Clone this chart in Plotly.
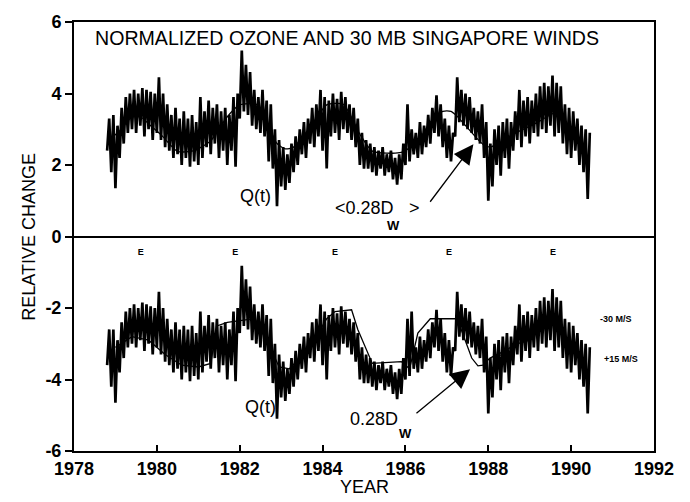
import plotly.graph_objects as go

# ---------------- data ----------------
YEARS = [1978.8, 1978.9,
         1979.0, 1979.1, 1979.2, 1979.3, 1979.4, 1979.5, 1979.6, 1979.7, 1979.8, 1979.9,
         1980.0, 1980.1, 1980.2, 1980.3, 1980.4, 1980.5, 1980.6, 1980.7, 1980.8, 1980.9,
         1981.0, 1981.1, 1981.2, 1981.3, 1981.4, 1981.5, 1981.6, 1981.7, 1981.8, 1981.9,
         1982.0, 1982.1, 1982.2, 1982.3, 1982.4, 1982.5, 1982.6, 1982.7, 1982.8, 1982.9,
         1983.0, 1983.1, 1983.2, 1983.3, 1983.4, 1983.5, 1983.6, 1983.7, 1983.8, 1983.9,
         1984.0, 1984.1, 1984.2, 1984.3, 1984.4, 1984.5, 1984.6, 1984.7, 1984.8, 1984.9,
         1985.0, 1985.1, 1985.2, 1985.3, 1985.4, 1985.5, 1985.6, 1985.7, 1985.8, 1985.9,
         1986.0, 1986.1, 1986.2, 1986.3, 1986.4, 1986.5, 1986.6, 1986.7, 1986.8, 1986.9,
         1987.0, 1987.1, 1987.2, 1987.3, 1987.4, 1987.5, 1987.6, 1987.7, 1987.8, 1987.9,
         1988.0, 1988.1, 1988.2, 1988.3, 1988.4, 1988.5, 1988.6, 1988.7, 1988.8, 1988.9,
         1989.0, 1989.1, 1989.2, 1989.3, 1989.4, 1989.5, 1989.6, 1989.7, 1989.8, 1989.9,
         1990.0, 1990.1, 1990.2, 1990.3, 1990.4]

# Upper panel: normalized ozone Q(t), per-bin high / low of the daily values
OZONE_TOP_HI = [3.3, 3.4,
                3.1, 3.6, 3.9, 4.0, 4.1, 4.0, 4.15, 4.1, 4.05, 4.0,
                4.45, 4.0, 3.7, 3.4, 3.6, 3.3, 3.5, 3.3, 3.4, 3.2,
                3.9, 3.5, 3.8, 3.6, 3.7, 3.5, 3.6, 3.4, 3.9, 4.0,
                5.2, 4.8, 4.6, 4.1, 3.9, 4.1, 3.8, 3.7, 3.0, 2.7,
                2.5, 2.3, 2.6, 2.8, 3.0, 3.2, 3.3, 3.6, 3.7, 4.1,
                3.9, 3.8, 4.0, 3.85, 4.05, 3.9, 3.7, 3.6, 3.3, 2.9,
                2.7, 2.6, 2.5, 2.4, 2.5, 2.3, 2.4, 2.2, 2.3, 2.6,
                3.7, 3.0, 2.9, 3.2, 3.1, 3.4, 3.6, 3.95, 3.7, 3.3,
                3.1, 2.9, 4.45, 4.1, 4.0, 3.9, 3.6, 3.5, 3.7, 3.2,
                2.6, 3.0, 3.1, 3.2, 3.3, 3.2, 3.5, 4.1, 3.8, 3.9,
                3.8, 4.0, 4.2, 4.3, 4.2, 4.5, 4.3, 4.2, 3.7, 3.6,
                3.5, 3.3, 3.1, 3.0, 2.9]
OZONE_TOP_LO = [2.4, 1.8,
                1.35, 2.2, 2.6, 2.9, 3.0, 2.9, 3.1, 2.8, 3.0, 2.7,
                2.9, 2.7, 2.5, 2.4, 2.2, 2.3, 2.0, 2.2, 1.95, 2.1,
                2.0, 2.2, 2.5, 2.3, 2.6, 2.2, 2.4, 2.0, 2.4, 1.95,
                3.3, 3.5, 3.4, 3.1, 3.0, 2.9, 2.8, 2.1, 1.9, 0.85,
                1.4, 1.3, 1.5, 1.8, 2.0, 2.3, 2.2, 2.6, 2.5, 2.8,
                2.4, 1.9, 2.8, 2.9, 2.7, 3.0, 2.9, 2.7, 2.5, 2.0,
                1.9, 1.9, 1.8, 1.7, 1.9, 1.7, 1.8, 1.6, 1.45, 1.6,
                2.0, 2.1, 2.3, 2.2, 2.3, 2.5, 2.6, 2.9, 2.8, 2.5,
                2.2, 2.1, 2.8, 3.2, 3.1, 3.0, 2.9, 2.7, 2.6, 2.2,
                1.0, 1.4, 2.0, 1.7, 2.2, 1.9, 2.4, 2.7, 2.5, 2.8,
                2.6, 2.9, 2.8, 3.0, 2.9, 3.1, 2.8, 2.9, 2.6, 2.3,
                2.2, 2.4, 2.0, 1.8, 1.05]

# Lower panel: ozone Q(t) shown against the wind series
OZONE_BOT_HI = [-2.6, -2.6,
                -2.9, -2.4, -2.1, -2.0, -1.9, -2.0, -1.85, -1.9, -1.95, -2.0,
                -1.55, -2.0, -2.3, -2.6, -2.4, -2.6, -2.5, -2.6, -2.5, -2.7,
                -2.1, -2.5, -2.2, -2.4, -2.3, -2.5, -2.4, -2.6, -2.1, -2.0,
                -0.82, -1.2, -1.4, -1.9, -2.1, -1.9, -2.2, -2.3, -3.0, -3.3,
                -3.5, -3.7, -3.4, -3.2, -3.0, -2.8, -2.7, -2.4, -2.3, -1.9,
                -2.1, -2.2, -2.0, -2.15, -1.95, -2.1, -2.3, -2.4, -2.7, -3.1,
                -3.3, -3.4, -3.5, -3.6, -3.5, -3.7, -3.6, -3.8, -3.7, -3.4,
                -2.3, -2.1, -3.1, -2.8, -2.9, -2.6, -2.4, -2.05, -2.3, -2.7,
                -2.9, -3.1, -1.55, -1.9, -2.0, -2.1, -2.4, -2.5, -2.3, -2.8,
                -3.4, -3.0, -2.9, -2.8, -2.7, -2.8, -2.5, -1.9, -2.2, -2.1,
                -2.2, -2.0, -1.8, -1.7, -1.8, -1.47, -1.7, -1.8, -2.3, -2.4,
                -2.5, -2.7, -2.9, -3.0, -3.1]
OZONE_BOT_LO = [-3.6, -4.2,
                -4.65, -3.8, -3.4, -3.1, -3.0, -3.1, -2.9, -3.2, -3.0, -3.3,
                -3.1, -3.3, -3.5, -3.6, -3.8, -3.7, -4.0, -3.8, -4.05, -3.9,
                -4.0, -3.8, -3.5, -3.7, -3.4, -3.8, -3.6, -4.0, -3.6, -4.05,
                -2.7, -2.5, -2.6, -2.9, -3.0, -3.1, -3.2, -3.9, -4.1, -5.1,
                -4.5, -4.6, -4.4, -4.2, -4.0, -3.7, -3.8, -3.4, -3.5, -3.2,
                -3.6, -4.0, -3.2, -3.1, -3.3, -3.0, -3.1, -3.3, -3.5, -4.0,
                -4.1, -4.1, -4.2, -4.3, -4.1, -4.3, -4.2, -4.4, -4.55, -4.4,
                -4.0, -3.9, -3.7, -3.8, -3.7, -3.5, -3.4, -3.1, -3.2, -3.5,
                -3.8, -3.9, -3.2, -2.8, -2.9, -3.0, -3.1, -3.3, -3.4, -3.8,
                -4.95, -4.5, -4.0, -4.3, -3.8, -4.1, -3.6, -3.3, -3.5, -3.2,
                -3.4, -3.1, -3.2, -3.0, -3.1, -2.9, -3.2, -3.1, -3.4, -3.7,
                -3.8, -3.6, -4.0, -4.2, -4.95]

# Smoothed <0.28 Dw> curve (upper panel)
SMOOTH_TOP_X = [1978.95, 1979.1, 1979.4, 1979.6, 1979.85, 1980.1, 1980.5, 1980.9,
                1981.3, 1981.7, 1982.0, 1982.4, 1982.65, 1982.9, 1983.1, 1983.3,
                1983.7, 1984.1, 1984.5, 1984.9, 1985.2, 1985.9, 1986.3, 1986.6,
                1986.9, 1987.1, 1987.25, 1987.87, 1988.05, 1988.6, 1989.2, 1989.6,
                1989.75]
SMOOTH_TOP_Y = [2.8, 2.95, 3.35, 3.35, 3.1, 2.85, 2.38, 2.4,
                2.68, 3.35, 3.68, 3.7, 3.2, 2.6, 2.45, 2.5,
                3.05, 3.68, 3.7, 2.86, 2.39, 2.35, 2.66, 3.2,
                3.5, 3.5, 3.36, 2.58, 2.5, 2.86, 3.2, 3.46,
                3.4]

# 0.28 Dw curve (lower panel)
WIND_BOT_X = [1979.0, 1979.4, 1979.8, 1980.2, 1980.6, 1981.0, 1981.3, 1981.45,
              1981.7, 1982.0, 1982.35, 1982.7, 1982.95, 1983.2, 1983.7, 1984.1,
              1984.3, 1984.7, 1984.85, 1985.2, 1985.9, 1986.1, 1986.3, 1986.6,
              1986.8, 1987.25, 1987.6, 1987.75, 1987.87, 1988.04, 1988.4, 1988.65,
              1989.0]
WIND_BOT_Y = [-3.1, -2.8, -2.9, -3.3, -3.6, -3.65, -3.55, -2.5,
              -2.4, -2.35, -2.3, -3.0, -3.65, -3.7, -3.1, -2.3,
              -2.1, -2.05, -2.6, -3.55, -3.5, -3.7, -2.7, -2.3,
              -2.3, -2.3, -3.4, -3.62, -3.6, -3.4, -3.2, -3.02,
              -2.9]

E_YEARS = [1979.61, 1981.89, 1984.3, 1987.05, 1989.56]
E_LEVEL = -0.45

X_TICKS = [1978, 1980, 1982, 1984, 1986, 1988, 1990, 1992]
Y_TICKS = [-6, -4, -2, 0, 2, 4, 6]
Y_TICK_LABELS = ["-6", "-4", "-2", "0", "2", "4", "6"]

TITLE = "NORMALIZED OZONE AND 30 MB SINGAPORE WINDS"

# ---------------- build figure ----------------
FONT = "Liberation Sans, Arial, Helvetica, sans-serif"
HALF_BIN = 0.05


def zigzag(years, hi, lo):
    xs, ys = [], []
    for t, h, l in zip(years, hi, lo):
        xs += [t, t + HALF_BIN]
        ys += [l, h]
    return xs, ys


fig = go.Figure()

for hi, lo in ((OZONE_TOP_HI, OZONE_TOP_LO), (OZONE_BOT_HI, OZONE_BOT_LO)):
    xs, ys = zigzag(YEARS, hi, lo)
    fig.add_trace(go.Scatter(x=xs, y=ys, mode="lines",
                             line=dict(color="black", width=2.7),
                             hoverinfo="skip", showlegend=False))

fig.add_trace(go.Scatter(x=SMOOTH_TOP_X, y=SMOOTH_TOP_Y, mode="lines",
                         line=dict(color="black", width=1.3, shape="spline", smoothing=0.6),
                         showlegend=False))
fig.add_trace(go.Scatter(x=WIND_BOT_X, y=WIND_BOT_Y, mode="lines",
                         line=dict(color="black", width=1.3),
                         showlegend=False))

fig.add_trace(go.Scatter(x=E_YEARS, y=[E_LEVEL] * len(E_YEARS), mode="text",
                         text=["E"] * len(E_YEARS),
                         textfont=dict(family=FONT, size=9, color="black", weight="bold"),
                         showlegend=False))

ann = []


def label(x, y, text, size=18, bold=False):
    f = dict(family=FONT, size=size, color="black")
    if bold:
        f["weight"] = "bold"
    ann.append(dict(x=x, y=y, xref="x", yref="y", text=text, showarrow=False,
                    xanchor="center", yanchor="middle", font=f))


label(1984.6, 5.56, TITLE, size=19.6)
label(1982.39, 1.12, "Q(t)")
label(1985.02, 0.79, "&lt;0.28D")
label(1986.23, 0.79, "&gt;")
label(1985.72, 0.32, "W", size=13, bold=True)
label(1982.49, -4.76, "Q(t)")
label(1985.24, -5.1, "0.28D")
label(1986.01, -5.5, "W", size=13, bold=True)
label(1991.08, -2.3, "-30 M/S", size=9, bold=True)
label(1991.21, -3.43, "+15 M/S", size=9, bold=True)

# arrows
for tail, tip in (((1986.57, 0.93), (1987.64, 2.58)), ((1986.23, -4.98), (1987.56, -3.71))):
    ann.append(dict(x=tip[0], y=tip[1], ax=tail[0], ay=tail[1], xref="x", yref="y",
                    axref="x", ayref="y", text="", showarrow=True,
                    arrowhead=2, arrowsize=3, arrowwidth=1.3, arrowcolor="black"))

# axis titles
ann.append(dict(x=-0.079, y=0.5, xref="paper", yref="paper", text="RELATIVE CHANGE",
                textangle=-90, showarrow=False, xanchor="center", yanchor="middle",
                font=dict(family=FONT, size=18, color="black")))
ann.append(dict(x=0.5017, y=-0.085, xref="paper", yref="paper", text="YEAR",
                showarrow=False, xanchor="center", yanchor="middle",
                font=dict(family=FONT, size=18, color="black")))

fig.update_layout(
    width=690, height=502,
    margin=dict(l=74, r=36, t=16, b=51),
    paper_bgcolor="white", plot_bgcolor="white",
    annotations=ann,
    showlegend=False,
)
fig.update_xaxes(range=[1978, 1992], tickvals=X_TICKS, ticks="inside", ticklen=6,
                 tickwidth=1.5, tickcolor="black",
                 showline=True, linecolor="black", linewidth=2, mirror=True,
                 showgrid=False, zeroline=False,
                 tickfont=dict(family=FONT, size=18, color="black", weight="bold"))
fig.update_yaxes(range=[-6, 6], tickvals=Y_TICKS, ticktext=Y_TICK_LABELS,
                 ticks="outside", ticklen=7, tickwidth=1.5, tickcolor="black",
                 showline=True, linecolor="black", linewidth=2, mirror=True,
                 showgrid=False, zeroline=True, zerolinecolor="black", zerolinewidth=2,
                 tickfont=dict(family=FONT, size=18, color="black", weight="bold"))

fig.write_html("out.html")
